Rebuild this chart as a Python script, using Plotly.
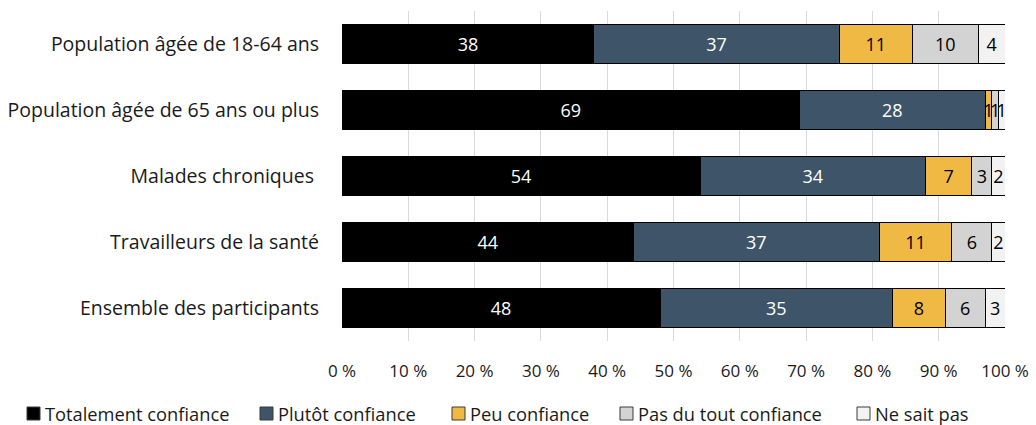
import plotly.graph_objects as go

categories = ["Population âgée de 18-64 ans", "Population âgée de 65 ans ou plus",
              "Malades chroniques ", "Travailleurs de la santé", "Ensemble des participants"]
series_names = ["Totalement confiance", "Plutôt confiance", "Peu confiance",
                "Pas du tout confiance", "Ne sait pas"]
totalement = [38, 69, 54, 44, 48]
plutot = [37, 28, 34, 37, 35]
peu = [11, 1, 7, 11, 8]
pas_du_tout = [10, 1, 3, 6, 6]
ne_sait_pas = [4, 1, 2, 2, 3]
tick_vals = [0, 10, 20, 30, 40, 50, 60, 70, 80, 90, 100]
tick_text = [f"{v} %" for v in tick_vals]

colors = ["#000000", "#3e5569", "#f0b944", "#d3d3d3", "#f2f2f2"]
text_colors = ["#ffffff", "#ffffff", "#000000", "#000000", "#000000"]
data = [totalement, plutot, peu, pas_du_tout, ne_sait_pas]

W, H = 1036, 425
ML, MR, MT, MB = 342, 31, 11, 84
PW, PH = W - ML - MR, H - MT - MB

def px_x(px):
    return (px - ML) / PW

def px_y(py):
    return (H - MB - py) / PH

font = "Open Sans"
fig = go.Figure()
for name, vals, c, tc in zip(series_names, data, colors, text_colors):
    fig.add_trace(go.Bar(
        y=categories, x=vals, name=name, orientation="h",
        marker=dict(color=c, line=dict(color="#000000", width=1)),
        text=[str(v) for v in vals], textposition="inside",
        insidetextanchor="middle",
        textfont=dict(color=tc, size=18, family=font),
        hoverinfo="skip",
    ))

# legend (drawn manually to match the compact reference layout)
legend_square_x = [27, 260, 452, 620, 857]
legend_y = 413
shapes = []
annotations = []
for name, c, sx in zip(series_names, colors, legend_square_x):
    shapes.append(dict(type="rect", xref="paper", yref="paper",
                       x0=px_x(sx), x1=px_x(sx + 13),
                       y0=px_y(legend_y + 7), y1=px_y(legend_y - 6),
                       fillcolor=c, line=dict(color="#3a3a3a", width=1)))
    annotations.append(dict(text=name, xref="paper", yref="paper",
                            x=px_x(sx + 16), y=px_y(legend_y),
                            xanchor="left", yanchor="middle", showarrow=False,
                            font=dict(size=18.3, family=font, color="#1a1a1a")))

fig.update_layout(
    barmode="stack",
    bargap=0.42,
    width=W, height=H,
    margin=dict(l=ML, r=MR, t=MT, b=MB, autoexpand=False),
    paper_bgcolor="white", plot_bgcolor="white",
    font=dict(family=font, size=17, color="#1a1a1a"),
    uniformtext=dict(minsize=18, mode="show"),
    showlegend=False,
    shapes=shapes,
    annotations=annotations,
    xaxis=dict(range=[0, 100], tickvals=tick_vals, ticktext=tick_text,
               showgrid=True, gridcolor="#d9d9d9", gridwidth=1,
               zeroline=False, ticklabelstandoff=18, fixedrange=True,
               tickfont=dict(size=17)),
    yaxis=dict(autorange="reversed", showgrid=False, ticklabelstandoff=22,
               fixedrange=True, tickfont=dict(size=19.5)),
)
fig.write_html("out.html", config={"displayModeBar": False},
               post_script="document.body.style.margin='0';document.body.style.overflow='hidden';")
